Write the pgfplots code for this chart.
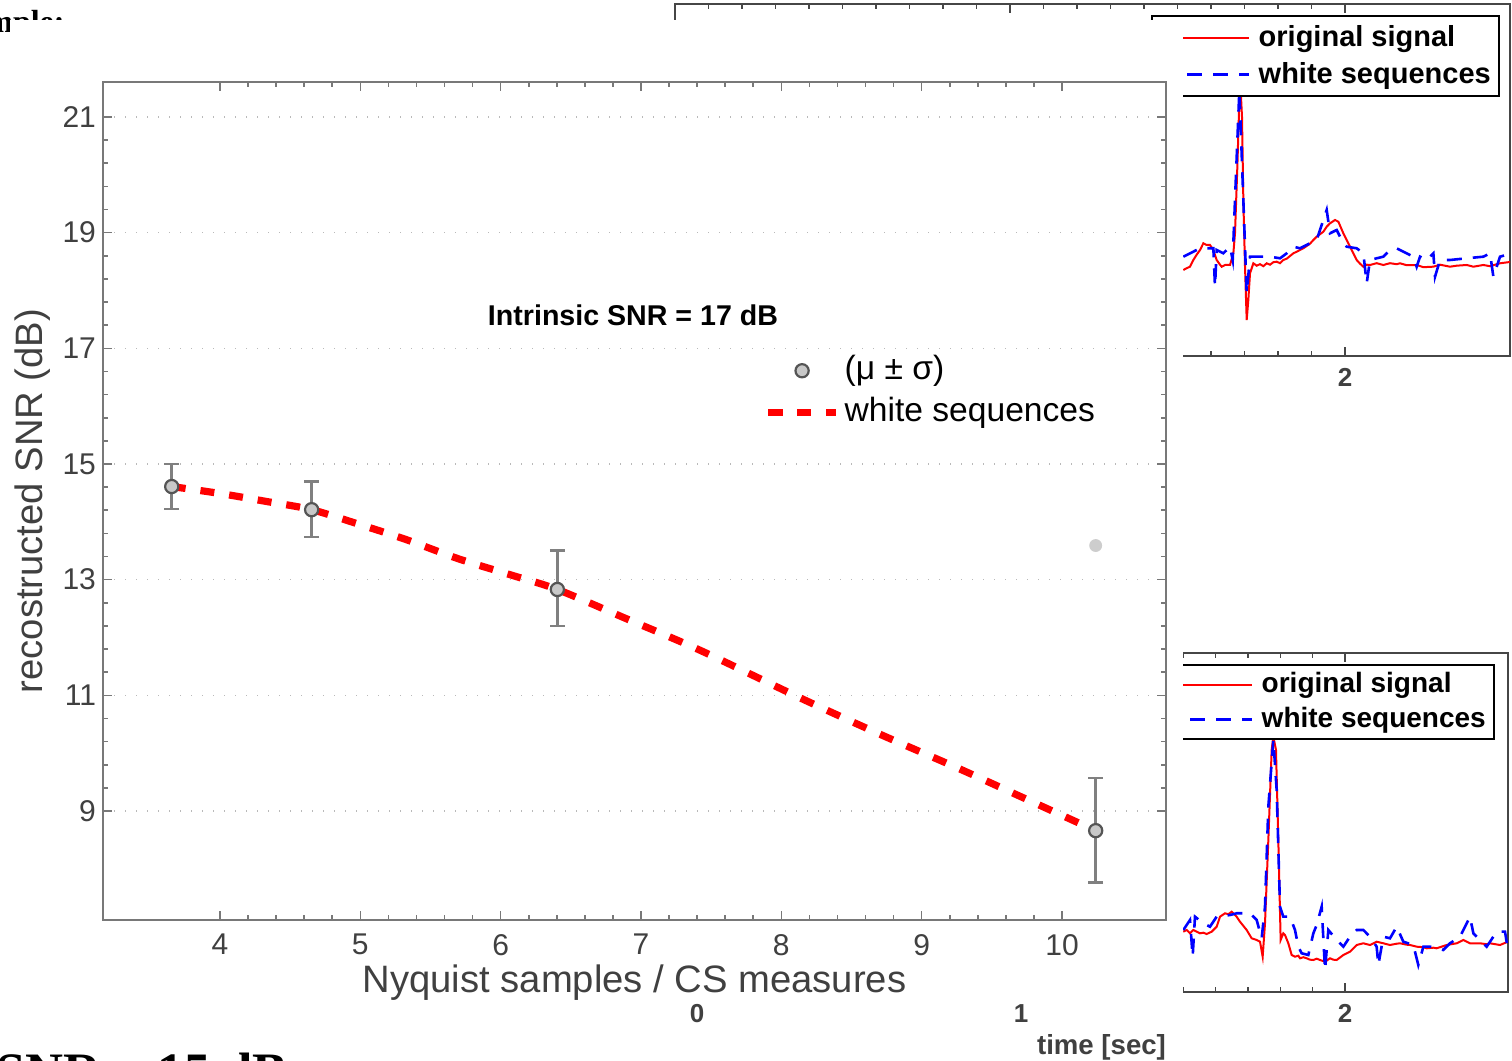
\documentclass[border=0pt]{standalone}
\usepackage{fontspec}
\setmainfont{Liberation Sans}
\newfontfamily\serifbf{Liberation Serif}
\usepackage{pgfplots}
\pgfplotsset{compat=1.18}
\definecolor{axgray}{RGB}{120,120,120}
\definecolor{labgray}{RGB}{64,64,64}
\definecolor{markfill}{RGB}{200,200,200}
\definecolor{markedge}{RGB}{85,85,85}
\definecolor{errgray}{RGB}{128,128,128}
\definecolor{dotgray}{RGB}{205,205,205}
\definecolor{insetgray}{RGB}{70,70,70}
\begin{document}
\begin{tikzpicture}
\path[use as bounding box] (0,0) rectangle (756pt,530.5pt);
\clip (0,0) rectangle (756pt,530.5pt);
% fragments of surrounding page text
\node[anchor=base east, inner sep=0pt, font=\serifbf\bfseries\fontsize{16}{16}\selectfont] at (32.5pt,514pt) {mple:};
\node[anchor=base west, inner sep=0pt, font=\serifbf\bfseries\fontsize{26.3}{26}\selectfont] at (-2pt,-14.5pt) {SNR = 15 dB};

% ---------------- top inset ----------------
\begin{axis}[at={(337.5pt,352.65pt)}, anchor=south west, scale only axis,
  width=417.5pt, height=175.85pt,
  xmin=0, xmax=2.4925, ymin=0, ymax=3.517,
  axis line style={insetgray, line width=0.9pt},
  tick style={insetgray, line width=0.7pt}, tick align=inside,
  major tick length=4.5pt, minor tick length=2.5pt,
  xtick={0,1,2}, minor x tick num=9,
  ytick=\empty, minor ytick={0.224,0.534,0.844,1.154,1.464,1.774,2.084,2.394,2.704,3.014,3.324},
  xticklabel style={font=\bfseries\fontsize{13}{13}\selectfont, text=labgray, yshift=-3pt},
  /pgf/number format/assume math mode=true,
  legend cell align=left,
  legend image code/.code={\draw[#1] (0pt,0pt) -- (44pt,0pt);},
  legend style={at={(0.988,0.9687)}, anchor=north east, draw=black, line width=1.2pt, fill=white,
    font=\bfseries\fontsize{14.5}{14.5}\selectfont, inner xsep=4pt, inner ysep=3.5pt, row sep=4pt,
    nodes={inner sep=0pt, text height=11.5pt, text depth=3pt},
    /tikz/every odd column/.append style={column sep=4pt}},
]
\addplot[color=red, line width=1pt] table {
1.5174 0.857
1.5274 0.875
1.5373 0.890
1.5473 0.957
1.5572 1.010
1.5672 1.057
1.5771 1.124
1.5871 1.107
1.5970 1.107
1.6070 1.057
1.6169 0.957
1.6269 0.910
1.6318 0.890
1.6418 0.907
1.6567 0.907
1.6667 1.024
1.6716 1.224
1.6786 1.890
1.6846 2.557
1.6886 2.650
1.6925 2.390
1.6965 1.557
1.7015 0.890
1.7065 0.357
1.7114 0.557
1.7164 0.824
1.7264 0.924
1.7363 0.900
1.7463 0.915
1.7562 0.895
1.7662 0.924
1.7761 0.910
1.7860 0.935
1.7960 0.940
1.8060 0.925
1.8159 0.957
1.8259 0.970
1.8458 1.024
1.8557 1.040
1.8756 1.074
1.8955 1.120
1.9055 1.157
1.9154 1.190
1.9353 1.240
1.9453 1.290
1.9552 1.324
1.9701 1.357
1.9801 1.340
1.9950 1.224
2.0149 1.090
2.0348 0.957
2.0448 0.920
2.0547 0.890
2.0647 0.910
2.0746 0.907
2.0945 0.925
2.1144 0.907
2.1343 0.925
2.1542 0.915
2.1642 0.924
2.1840 0.905
2.2139 0.907
2.2338 0.885
2.2637 0.890
2.2836 0.910
2.3134 0.890
2.3333 0.900
2.3632 0.907
2.3831 0.890
2.4129 0.907
2.4328 0.895
2.4627 0.924
2.4985 0.940
};
\addlegendentry{original signal}
\addplot[color=blue, line width=1.3pt, dash pattern=on 7.5pt off 5.5pt] table {
1.5174 0.990
1.5672 1.074
1.6070 1.074
1.6119 0.690
1.6169 1.057
1.6368 1.024
1.6567 1.090
1.6647 0.957
1.6716 1.557
1.6846 2.657
1.6965 1.557
1.7065 0.624
1.7164 0.990
1.7463 0.990
1.7761 0.990
1.8060 0.974
1.8259 1.024
1.8458 1.090
1.8657 1.074
1.8955 1.124
1.9154 1.157
1.9453 1.457
1.9552 1.224
1.9751 1.257
1.9900 1.157
2.0050 1.090
2.0348 1.074
2.0547 1.024
2.0647 0.724
2.0746 0.957
2.0945 0.974
2.1144 0.990
2.1343 1.057
2.1542 1.074
2.1741 1.040
2.2040 0.990
2.2139 0.890
2.2239 0.990
2.2438 0.957
2.2637 1.024
2.2687 0.790
2.2836 0.957
2.3134 0.957
2.3632 0.974
2.4129 0.990
2.4328 1.024
2.4428 0.790
2.4627 0.990
2.4985 1.024
};
\addlegendentry{white sequences}
\end{axis}

% ---------------- bottom inset ----------------
\begin{axis}[at={(337.5pt,34.65pt)}, anchor=south west, scale only axis,
  width=416.5pt, height=169.2pt,
  xmin=-0.0679, xmax=2.5031, ymin=0, ymax=3.384,
  axis line style={insetgray, line width=0.9pt},
  tick style={insetgray, line width=0.7pt}, tick align=inside,
  major tick length=4.5pt, minor tick length=2.5pt,
  xtick={0,1,2}, minor x tick num=9,
  ytick=\empty, minor ytick={0.05,0.342,0.634,0.926,1.218,1.51,1.802,2.094,2.386,2.678,2.97,3.262},
  xticklabel style={font=\bfseries\fontsize{13}{13}\selectfont, text=labgray, yshift=-3pt},
  /pgf/number format/assume math mode=true,
  xlabel={time [sec]},
  xlabel style={font=\bfseries\fontsize{13.8}{14}\selectfont, text=labgray, xshift=5pt, yshift=1pt},
  legend cell align=left,
  legend image code/.code={\draw[#1] (0pt,0pt) -- (44pt,0pt);},
  legend style={at={(0.9844,0.9684)}, anchor=north east, draw=black, line width=1.2pt, fill=white,
    font=\bfseries\fontsize{14}{14}\selectfont, inner xsep=4pt, inner ysep=3pt, row sep=4pt,
    nodes={inner sep=0pt, text height=10.5pt, text depth=3pt},
    /tikz/every odd column/.append style={column sep=4pt}},
]
\addplot[color=red, line width=1pt] table {
1.5010 0.600
1.5113 0.617
1.5216 0.584
1.5319 0.617
1.5422 0.600
1.5525 0.584
1.5628 0.590
1.5730 0.577
1.5885 0.600
1.6039 0.650
1.6142 0.750
1.6296 0.784
1.6399 0.775
1.6502 0.800
1.6656 0.750
1.6759 0.700
1.6965 0.617
1.7119 0.534
1.7274 0.517
1.7377 0.500
1.7459 0.350
1.7531 0.684
1.7634 1.517
1.7737 2.417
1.7788 2.550
1.7870 2.417
1.7942 1.517
1.8014 0.517
1.8097 0.584
1.8148 0.567
1.8251 0.484
1.8354 0.367
1.8457 0.350
1.8560 0.360
1.8611 0.334
1.8714 0.345
1.8817 0.334
1.8920 0.320
1.9023 0.317
1.9126 0.330
1.9228 0.317
1.9383 0.300
1.9537 0.334
1.9640 0.320
1.9743 0.317
1.9949 0.367
2.0154 0.400
2.0360 0.467
2.0566 0.484
2.0772 0.467
2.0977 0.500
2.1183 0.484
2.1389 0.467
2.1595 0.480
2.1698 0.484
2.1903 0.470
2.2006 0.467
2.2212 0.450
2.2418 0.445
2.2521 0.434
2.2726 0.440
2.2829 0.434
2.3138 0.467
2.3447 0.484
2.3652 0.517
2.3858 0.484
2.4167 0.484
2.4373 0.475
2.4475 0.484
2.4784 0.467
2.5030 0.500
};
\addlegendentry{original signal}
\addplot[color=blue, line width=1.3pt, dash pattern=on 7.5pt off 5.5pt] table {
1.5010 0.617
1.5216 0.717
1.5298 0.350
1.5370 0.750
1.5628 0.684
1.5833 0.650
1.6039 0.750
1.6451 0.767
1.6656 0.784
1.7068 0.784
1.7274 0.717
1.7428 0.534
1.7531 0.850
1.7634 1.850
1.7788 2.517
1.7891 2.017
1.7994 0.850
1.8097 0.750
1.8302 0.750
1.8457 0.617
1.8560 0.450
1.8663 0.384
1.8868 0.367
1.9023 0.584
1.9126 0.667
1.9280 0.850
1.9383 0.217
1.9486 0.617
1.9743 0.517
1.9949 0.450
2.0154 0.550
2.0360 0.617
2.0566 0.617
2.0772 0.550
2.0977 0.450
2.1029 0.267
2.1183 0.550
2.1389 0.534
2.1595 0.650
2.1800 0.500
2.2109 0.467
2.2263 0.267
2.2418 0.450
2.2623 0.450
2.3035 0.417
2.3241 0.484
2.3549 0.550
2.3858 0.750
2.3961 0.584
2.4167 0.517
2.4373 0.450
2.4681 0.600
2.4938 0.600
2.5030 0.417
};
\addlegendentry{white sequences}
\end{axis}

% cover of the main figure
\fill[white] (5pt,29pt) rectangle (591.5pt,520.5pt);

% ---------------- main chart ----------------
\begin{axis}[at={(51.5pt,70.5pt)}, anchor=south west, scale only axis,
  width=531.5pt, height=419pt,
  xmin=3.1663, xmax=10.741, ymin=7.115, ymax=21.605,
  xtick={4,5,6,7,8,9,10}, ytick={9,11,13,15,17,19,21},
  minor x tick num=4, minor y tick num=4,
  tick align=inside, major tick length=4.5pt, minor tick length=2.5pt,
  axis line style={axgray, line width=1pt},
  tick style={axgray, line width=0.8pt},
  ymajorgrids,
  major grid style={gray!55, line width=0.7pt, dash pattern=on 0.7pt off 4.8pt},
  ticklabel style={font=\fontsize{15}{15}\selectfont, text=labgray},
  xticklabel style={yshift=-3.6pt},
  /pgf/number format/assume math mode=true,
  xlabel={Nyquist samples / CS measures},
  ylabel={recostructed SNR (dB)},
  label style={font=\fontsize{19.1}{19.1}\selectfont, text=labgray},
  xlabel style={at={(axis description cs:0.5,-0.0752)}, anchor=center},
  ylabel style={at={(axis description cs:-0.0659,0.5)}, anchor=center},
  reverse legend,
  legend cell align=left,
  legend image code/.code={\draw[mark repeat=2,mark phase=2,#1] plot coordinates {(0pt,0pt)(17pt,0pt)(34pt,0pt)};},
  legend style={draw=none, fill=none, at={(0.6219,0.6744)}, anchor=north west, inner sep=0pt,
    font=\fontsize{16.8}{16.8}\selectfont, row sep=5.5pt,
    nodes={inner sep=0pt, text height=12pt, text depth=3.5pt},
    /tikz/every odd column/.append style={column sep=2.5pt}},
]
\addplot[red, line width=3.6pt, dash pattern=on 7pt off 7.5pt, smooth] table {
3.656 14.61
4.000 14.49
4.335 14.35
4.653 14.21
5.000 13.95
5.318 13.70
5.700 13.36
6.088 13.07
6.404 12.83
6.900 12.32
7.420 11.78
8.130 10.96
8.700 10.33
9.259 9.74
9.822 9.12
10.240 8.66
};
\addlegendentry{white sequences}
\addplot[dotgray, only marks, mark=*, mark size=3pt, mark options={fill=dotgray, draw=dotgray}, forget plot] coordinates {(10.24,13.59)};
\addplot[only marks, mark=*, mark size=3.3pt, mark options={fill=markfill, draw=markedge, line width=1.1pt, solid},
  error bars/.cd, y dir=both, y explicit,
  error bar style={errgray, line width=1.3pt},
  error mark options={rotate=90, errgray, mark size=3.7pt, line width=1.3pt}]
  table[x=x, y=y, y error plus=ep, y error minus=em] {
x y ep em
3.656 14.61 0.39 0.39
4.653 14.21 0.49 0.47
6.404 12.83 0.67 0.63
10.24 8.66 0.91 0.90
};
\addlegendentry{(μ ± σ)}
\node[font=\bfseries\fontsize{14.3}{14.3}\selectfont] at (axis cs:6.943,17.571) {Intrinsic SNR = 17 dB};
\end{axis}
\end{tikzpicture}
\end{document}
